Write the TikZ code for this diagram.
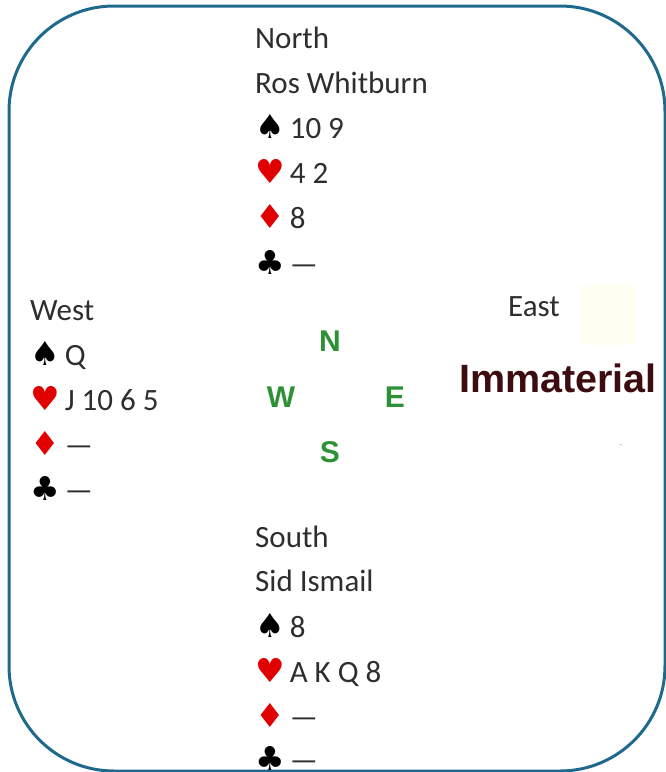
\documentclass[tikz,border=0pt]{standalone}
\usepackage{fontspec}
\usepackage{xcolor}
\usepackage{tikz}
\usetikzlibrary{positioning}
\setmainfont{Carlito}
\newfontfamily\suitfont{DejaVu Sans}
\newfontfamily\arialfont{Liberation Sans}
\definecolor{brframe} {HTML}{1F6A8C}
\definecolor{brtext}  {HTML}{2E2E2E}
\definecolor{brred}   {HTML}{E00000}
\definecolor{brgreen} {HTML}{2D9236}
\definecolor{brmaroon}{HTML}{3D0C10}
\definecolor{brcream} {HTML}{FFFEF3}
\newcommand{\suitS}{{\suitfont\fontsize{33}{38}\selectfont\color{black}♠}\hspace{5pt}}
\newcommand{\suitH}{{\suitfont\fontsize{33}{38}\selectfont\color{brred}♥}\hspace{5pt}}
\newcommand{\suitD}{{\suitfont\fontsize{33}{38}\selectfont\color{brred}♦}\hspace{5pt}}
\newcommand{\suitC}{{\suitfont\fontsize{33}{38}\selectfont\color{black}♣}\hspace{5pt}}

\begin{document}
\begin{tikzpicture}[
  x=1pt, y=-1pt,
  hand/.style={anchor=base west, inner sep=0pt, text=brtext,
               font=\fontsize{31}{36}\selectfont},
  compass/.style={inner sep=0pt, text=brgreen,
                  font=\arialfont\bfseries\fontsize{30}{34}\selectfont},
  verdict/.style={anchor=base west, inner sep=0pt, text=brmaroon,
                  font=\arialfont\bfseries\fontsize{39.5}{44}\selectfont},
]
\useasboundingbox (0,0) rectangle (665,772);

% -- Frame --------------------------------------
\draw[brframe, line width=3pt, rounded corners=105pt]
  (9,6) rectangle (665,771);
\fill[brcream] (580,285) rectangle (635,345);

% -- North --------------------------------------
\node[hand] (north)  at (255, 48) {North};
\node[hand] (nname)  at (255, 93) {Ros Whitburn};
\node[hand] (nS)     at (255,138) {\suitS 10 9};
\node[hand] (nH)     at (255,183) {\suitH 4 2};
\node[hand] (nD)     at (255,228) {\suitD 8};
\node[hand] (nC)     at (255,274) {\suitC —};

% -- West ---------------------------------------
\node[hand] (west)   at (30,320) {West};
\node[hand] (wS)     at (30,365) {\suitS Q};
\node[hand] (wH)     at (30,410) {\suitH J 10 6 5};
\node[hand] (wD)     at (30,455) {\suitD —};
\node[hand] (wC)     at (30,500) {\suitC —};

% -- East ---------------------------------------
\node[hand]    (east)  at (508,316) {East};
\node[verdict] (immat) at (459,392) {Immaterial};
\node[inner sep=0pt, text=black!25, font=\fontsize{12}{14}\selectfont]
  (edash) at (621,447) {-};

% -- Compass ------------------------------------
\node[compass] (cN) at (330,341) {N};
\node[compass] (cW) at (281,397) {W};
\node[compass] (cE) at (395,397) {E};
\node[compass] (cS) at (330,452) {S};

% -- South --------------------------------------
\node[hand] (south)  at (255,547) {South};
\node[hand] (sname)  at (255,591) {Sid Ismail};
\node[hand] (sS)     at (255,637) {\suitS 8};
\node[hand] (sH)     at (255,682) {\suitH A K Q 8};
\node[hand] (sD)     at (255,727) {\suitD —};
\node[hand] (sC)     at (255,770) {\suitC —};

\end{tikzpicture}
\end{document}
